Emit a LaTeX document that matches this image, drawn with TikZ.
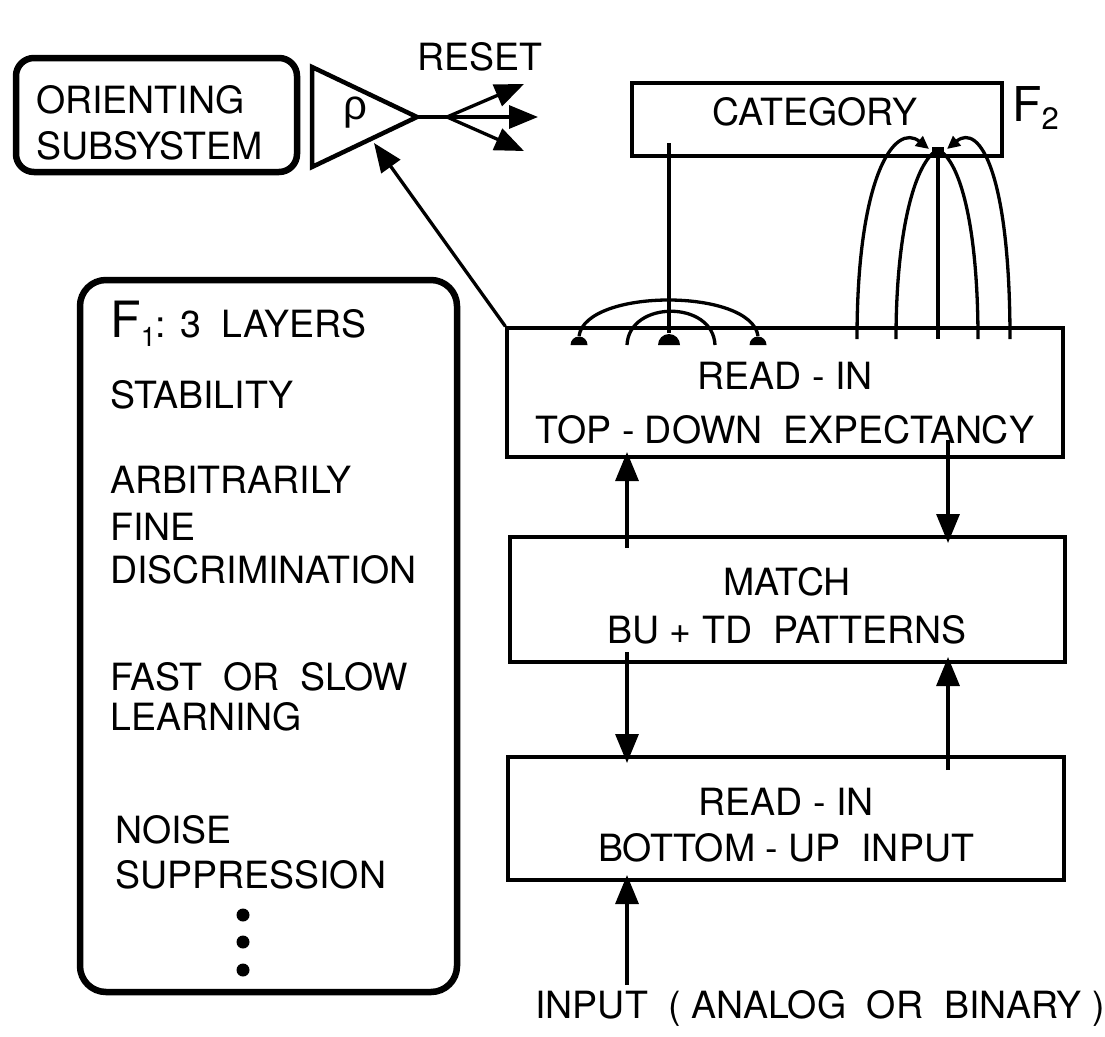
\documentclass[tikz,border=0pt]{standalone}
\usepackage{fontspec}
\setmainfont{TeX Gyre Heros}
\newfontfamily\greekfont{Liberation Sans}
\usetikzlibrary{arrows.meta}
\begin{document}
\begin{tikzpicture}[x=1pt,y=-1pt,
  wire/.style={line width=3.3pt},
  plainbox/.style={draw,line width=3.3pt,inner sep=0pt},
  roundbox/.style={draw,line width=6.5pt,rounded corners=18pt,inner sep=0pt},
  txt/.style={font=\fontsize{37.5}{44}\selectfont,inner sep=0pt},
  ltxt/.style={font=\fontsize{37.5}{44}\selectfont,inner sep=0pt,anchor=base west},
  bigtip/.style={-{Triangle[length=29pt,width=23pt]}},
  smalltip/.style={-{Triangle[length=13pt,width=12pt]}}
]
\useasboundingbox (0,0) rectangle (1105,1036);
% boxes
\node[roundbox,minimum width=281pt,minimum height=114pt] (orient) at (156.5,115) {};
\node[roundbox,rounded corners=26pt,minimum width=377pt,minimum height=712pt] (f1) at (268.5,636) {};
\node[plainbox,minimum width=370pt,minimum height=73pt] (cat) at (817,119.5) {};
\node[plainbox,minimum width=556pt,minimum height=129pt] (td) at (785,392.5) {};
\node[plainbox,minimum width=555pt,minimum height=125pt] (match) at (787.5,599.5) {};
\node[plainbox,minimum width=556pt,minimum height=123pt] (bu) at (786,818.5) {};

% texts
\node[txt,anchor=west,text height=27pt,text depth=0pt] (t-or1) at (36,100) {ORIENTING};
\node[txt,anchor=west,text height=27pt,text depth=0pt] (t-or2) at (36,146) {SUBSYSTEM};
\node[txt,text height=27pt,text depth=0pt] (t-cat) at (815,112) {CATEGORY};
\node[inner sep=0pt,anchor=base west,font=\fontsize{48}{50}\selectfont] (t-f2) at (1012,121) {F\raisebox{-8pt}{\fontsize{31}{31}\selectfont 2}};
\node[txt] (t-reset) at (480,57) {RESET};
\node[inner sep=0pt,font=\fontsize{42}{44}\greekfont] (t-rho) at (355,113) {ρ};
\node[txt] (t-td1) at (785,376) {READ - IN};
\node[txt] (t-td2) at (785,430) {TOP - DOWN\ \ EXPECTANCY};
\node[txt] (t-m1) at (787,582) {MATCH};
\node[txt] (t-m2) at (787,630) {BU + TD\ \ PATTERNS};
\node[txt] (t-bu1) at (786,802) {READ - IN};
\node[txt] (t-bu2) at (786,848) {BOTTOM - UP\ \ INPUT};
\node[txt] (t-in) at (820,1008) {INPUT\ \ ( ANALOG\ \ OR\ \ BINARY )};

% F1 list
\node[ltxt] (l0) at (110,337) {{\fontsize{50}{52}\selectfont F}\raisebox{-9pt}{\fontsize{27}{28}\selectfont 1}: 3\ \ LAYERS};
\node[ltxt] (l1) at (110,408) {STABILITY};
\node[ltxt] (l2) at (110,493) {ARBITRARILY};
\node[ltxt] (l3) at (110,540) {FINE};
\node[ltxt] (l4) at (110,583) {DISCRIMINATION};
\node[ltxt] (l5) at (110,690) {FAST\ \ OR\ \ SLOW};
\node[ltxt] (l6) at (110,730) {LEARNING};
\node[ltxt] (l7) at (115,843) {NOISE};
\node[ltxt] (l8) at (115,888) {SUPPRESSION};
\fill (243,915) circle (6.5pt) (243,942) circle (6.5pt) (243,970) circle (6.5pt);

% triangle (rho comparator)
\coordinate (tA) at (312,67);
\coordinate (tB) at (312,167);
\coordinate (tC) at (417,117);
\draw[line width=4.5pt,line join=miter] (tA) -- (tC) -- (tB) -- cycle;
\coordinate (rj) at (447,117);
\coordinate (r1) at (524,84);
\coordinate (r2) at (538,117);
\coordinate (r3) at (524,151);
\draw[wire] (tC) -- (rj);
\draw[wire,bigtip] (rj) -- (r1);
\draw[wire,bigtip] (rj) -- (r2);
\draw[wire,bigtip] (rj) -- (r3);

% arrow from F1 read-in to rho
\coordinate (rhoin) at (374,143);
\draw[wire,bigtip] (td.north west) -- (rhoin);

% top-down expectancy fan
\coordinate (tdsrc) at (669,143);
\draw[wire] (tdsrc) -- (669,333);
\fill (669,345) ++(-11,0) arc (180:360:11) -- cycle;
\draw[wire] (579,336) .. controls (586,288) and (751,288) .. (758,336);
\draw[wire] (627,345) .. controls (629,300) and (713,300) .. (715,345);
\fill (579,345) ++(-8.5,0) arc (180:360:8.5) -- cycle;
\fill (758,345) ++(-8.5,0) arc (180:360:8.5) -- cycle;

% bottom-up adaptive filter
\coordinate (f2n) at (938,152);
\fill (932,147) rectangle (944,156);
\draw[wire] (938,339) -- (f2n);
\draw[wire] (896,339) .. controls (896,240) and (912,172) .. (933,153);
\draw[wire] (978,339) .. controls (978,240) and (964,172) .. (943,153);
\draw[wire,smalltip] (857,339) .. controls (857,175) and (895,122) .. (929,149);
\draw[wire,smalltip] (1010,339) .. controls (1010,175) and (980,122) .. (947,149);

% vertical arrows
\draw[wire,bigtip] (627,548) -- (627,452);
\draw[wire,bigtip] (948,440) -- (948,543);
\draw[wire,bigtip] (627,652) -- (627,763);
\draw[wire,bigtip] (948,770) -- (948,657);
\coordinate (inp) at (627,985);
\draw[wire,bigtip] (inp) -- (627,875);
\end{tikzpicture}
\end{document}
